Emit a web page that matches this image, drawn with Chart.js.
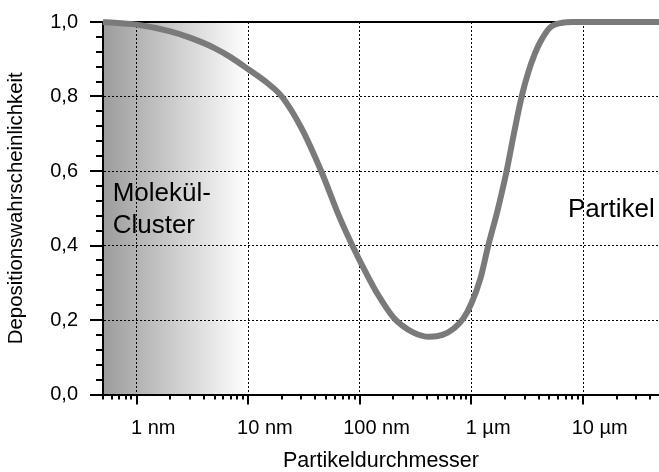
<!DOCTYPE html>
<html><head><meta charset="utf-8">
<script src="https://cdn.jsdelivr.net/npm/chart.js@4/dist/chart.umd.min.js"></script>
<style>html,body{margin:0;padding:0;background:#fff}canvas{display:block}</style>
</head><body>
<canvas id="c" width="659" height="472"></canvas>
<script>
// ---- data ----
const diameterNm = [0.5, 1, 2, 3, 5, 7, 10, 15, 20, 30, 45, 66, 94, 119, 142, 200, 300, 420, 550, 700, 850, 1000, 1200, 1415, 1700, 2066, 2400, 2818, 3228, 3700, 4111, 5050, 6500, 8100, 47900];
const depositionProb = [1.0, 0.993, 0.975, 0.958, 0.93, 0.905, 0.873, 0.835, 0.8, 0.715, 0.6, 0.475, 0.375, 0.315, 0.273, 0.207, 0.167, 0.155, 0.16, 0.178, 0.205, 0.245, 0.31, 0.4, 0.49, 0.6, 0.7, 0.8, 0.865, 0.915, 0.945, 0.985, 0.998, 1.0, 1.0];
const xRange = [0.5, 47900];
const xMajorTicks = [1, 10, 100, 1000, 10000];
const xTickNumbers = ['1', '10', '100', '1', '10'];
const xTickUnits = ['nm', 'nm', 'nm', 'µm', 'µm'];
const yMajorTicks = [0, 0.2, 0.4, 0.6, 0.8, 1.0];
const yTickLabels = ['0,0', '0,2', '0,4', '0,6', '0,8', '1,0'];
const yMinorStep = 0.04;
const shadeRangeNm = [0.5, 10];
const annotations = [
  { text: 'Molekül-', x: 0.61, y: 0.52 },
  { text: 'Cluster', x: 0.61, y: 0.433 },
  { text: 'Partikel', x: 7330, y: 0.477 }
];
const xTitle = 'Partikeldurchmesser';
const yTitle = 'Depositionswahrscheinlichkeit';

const FONT = "'Liberation Sans', Arial, sans-serif";

// minor x ticks (2..9 per decade)
const xMinorTicks = [];
[0.1, 1, 10, 100, 1000, 10000].forEach(d => {
  for (let m = 2; m <= 9; m++) {
    const v = m * d;
    if (v >= xRange[0] && v <= xRange[1] && !xMajorTicks.includes(v)) xMinorTicks.push(v);
  }
});

const backgroundPlugin = {
  id: 'bg',
  beforeDraw(chart) {
    const { ctx, chartArea: a, scales: { x } } = chart;
    ctx.save();
    ctx.fillStyle = '#fff';
    ctx.fillRect(0, 0, chart.width, chart.height);
    const x0 = x.getPixelForValue(shadeRangeNm[0]);
    const x1 = x.getPixelForValue(shadeRangeNm[1]);
    const g = ctx.createLinearGradient(x0, 0, x1, 0);
    g.addColorStop(0, '#9c9c9c');
    g.addColorStop(1, '#ffffff');
    ctx.fillStyle = g;
    ctx.fillRect(x0, a.top, x1 - x0, a.bottom - a.top);
    ctx.restore();
  }
};

const tickPlugin = {
  id: 'tickmarks',
  afterDraw(chart) {
    const { ctx, chartArea: a, scales: { x, y } } = chart;
    ctx.save();
    ctx.strokeStyle = '#000';
    ctx.lineWidth = 2;
    ctx.beginPath();
    xMajorTicks.forEach(v => { const p = Math.round(x.getPixelForValue(v)); ctx.moveTo(p, a.bottom); ctx.lineTo(p, a.bottom + 10); });
    xMinorTicks.forEach(v => { const p = Math.round(x.getPixelForValue(v)); ctx.moveTo(p, a.bottom); ctx.lineTo(p, a.bottom + 5); });
    yMajorTicks.forEach(v => { const p = Math.round(y.getPixelForValue(v)); ctx.moveTo(a.left - 13, p); ctx.lineTo(a.left, p); });
    for (let v = 0; v <= 1.0001; v += yMinorStep) {
      if (yMajorTicks.some(m => Math.abs(m - v) < 1e-6)) continue;
      const p = Math.round(y.getPixelForValue(v));
      ctx.moveTo(a.left - 7, p); ctx.lineTo(a.left, p);
    }
    ctx.stroke();
    ctx.restore();
  }
};

const annotationPlugin = {
  id: 'annot',
  afterDatasetsDraw(chart) {
    const { ctx, scales: { x, y } } = chart;
    ctx.save();
    ctx.fillStyle = '#000';
    ctx.font = '26px ' + FONT;
    ctx.textAlign = 'left';
    ctx.textBaseline = 'alphabetic';
    annotations.forEach(t => ctx.fillText(t.text, x.getPixelForValue(t.x), y.getPixelForValue(t.y)));
    ctx.restore();
  }
};

new Chart(document.getElementById('c'), {
  type: 'line',
  data: {
    datasets: [
      {
        data: diameterNm.map((d, i) => ({ x: d, y: depositionProb[i] })),
        borderColor: 'rgb(122,122,122)',
        borderWidth: 6,
        pointRadius: 0,
        cubicInterpolationMode: 'monotone',
        clip: false,
        order: 1
      },
      {
        data: [{ x: xRange[0], y: 1 }, { x: xRange[1], y: 1 }],
        borderColor: '#000',
        borderWidth: 2,
        pointRadius: 0,
        clip: false,
        order: 2
      }
    ]
  },
  options: {
    responsive: false,
    animation: false,
    devicePixelRatio: 1,
    layout: { padding: { top: 22, right: 0, bottom: 0, left: 0 } },
    plugins: { legend: { display: false }, tooltip: { enabled: false } },
    scales: {
      x: {
        type: 'logarithmic',
        min: xRange[0],
        max: xRange[1],
        afterBuildTicks: s => { s.ticks = xMajorTicks.map(v => ({ value: v })); },
        afterFit: s => { s.height = 77.5; },
        ticks: {
          autoSkip: false,
          maxRotation: 0,
          minRotation: 0,
          padding: 0,
          color: '#000',
          font: { family: FONT, size: 20 },
          callback: (v, i) => '      ' + xTickNumbers[i] + ' ' + xTickUnits[i]
        },
        grid: { drawTicks: true, tickLength: 22, tickColor: 'rgba(0,0,0,0)', color: '#000', lineWidth: 1 },
        border: { display: true, color: '#000', width: 2, dash: [2, 2] },
        title: { display: true, text: xTitle, color: '#000', font: { family: FONT, size: 21.5, lineHeight: 1 }, padding: { top: 0, bottom: 0 } }
      },
      y: {
        min: 0,
        max: 1,
        afterBuildTicks: s => { s.ticks = yMajorTicks.map(v => ({ value: v })); },
        afterFit: s => { s.width = 103; },
        ticks: {
          padding: 0,
          color: '#000',
          font: { family: FONT, size: 20 },
          callback: (v, i) => yTickLabels[i]
        },
        grid: {
          drawTicks: true,
          tickLength: 25,
          tickColor: 'rgba(0,0,0,0)',
          lineWidth: 1,
          color: c => (c.tick && (c.tick.value === 0 || c.tick.value === 1)) ? 'rgba(0,0,0,0)' : '#000'
        },
        border: { display: true, color: '#000', width: 2, dash: [2, 2] },
        title: { display: true, text: yTitle, color: '#000', font: { family: FONT, size: 20.4, lineHeight: 1 }, padding: { top: 6, bottom: 0 } }
      }
    }
  },
  plugins: [backgroundPlugin, tickPlugin, annotationPlugin]
});
</script>
</body></html>
